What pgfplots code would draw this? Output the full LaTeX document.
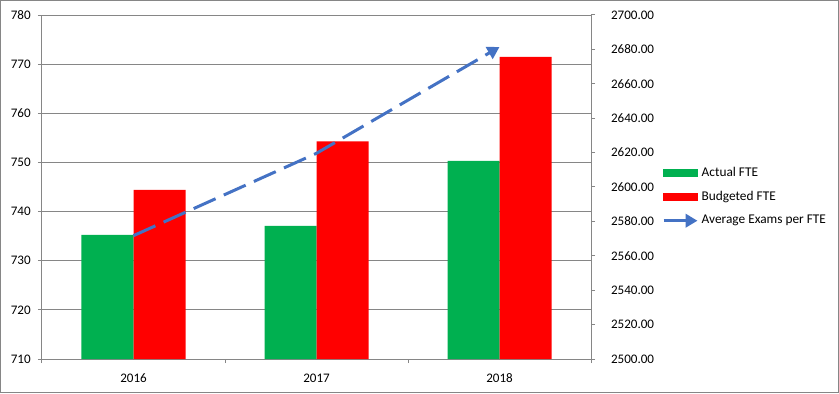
\documentclass[border=0pt]{standalone}
\usepackage{fontspec}
\setmainfont{Carlito}
\usepackage{pgfplots}
\pgfplotsset{compat=1.18}
\usetikzlibrary{arrows.meta}
\definecolor{actgreen}{HTML}{00B050}
\definecolor{budred}{HTML}{FF0000}
\definecolor{avgblue}{HTML}{4472C4}
\definecolor{axgray}{HTML}{868686}
\begin{document}
\begin{tikzpicture}[font=\fontsize{10}{12}\selectfont]
\useasboundingbox (0,0) rectangle (629.25pt,294.75pt);
\draw[axgray, line width=0.75pt] (0.375pt,0.375pt) rectangle (628.875pt,294.375pt);
\pgfplotsset{
  common/.style={scale only axis, width=411.75pt, height=258pt,
    at={(31.5pt,25.5pt)}, anchor=south west,
    xmin=-0.5, xmax=2.5, clip=true,
    tick align=outside, major tick length=3pt,
    tick style={axgray, line width=0.75pt},
    axis line style={-, axgray, line width=0.75pt},
    /pgf/number format/assume math mode=true,
    ticklabel style={font=\fontsize{9.8}{12}\selectfont, text=black}}
}
\begin{axis}[common,
  axis x line*=bottom, axis y line*=left,
  ymin=710, ymax=780, ytick distance=10,
  ymajorgrids, grid style={axgray, line width=0.75pt},
  xtick={-0.5,0.5,1.5,2.5}, xticklabels={2016,2017,2018}, x tick label as interval,
  xticklabel style={yshift=-4.5pt},
  ybar, bar width=39pt,
  yticklabel style={xshift=-2pt},
]
\addplot[fill=actgreen, draw=none, bar shift=-19.5pt] coordinates {(0,735.25) (1,737.1) (2,750.3)};
\addplot[fill=budred, draw=none, bar shift=19.5pt] coordinates {(0,744.4) (1,754.3) (2,771.5)};
\end{axis}
\begin{axis}[common,
  axis x line=none, axis y line*=right,
  ymin=2500, ymax=2700, ytick distance=20, scaled y ticks=false,
  yticklabel style={xshift=8.5pt, /pgf/number format/fixed, /pgf/number format/fixed zerofill, /pgf/number format/precision=2, /pgf/number format/1000 sep={}},
  legend style={at={(1.12933,0.5764)}, anchor=north west, draw=none, fill=none,
    inner sep=0pt, outer sep=0pt, row sep=0pt, cells={anchor=west},
    nodes={minimum height=18pt, inner ysep=0pt, text=black},
    font=\fontsize{10}{12}\selectfont},
]
\addlegendimage{legend image code/.code={\fill[actgreen] (0pt,-2.35pt) rectangle (25.5pt,2.35pt);}}
\addlegendentry{Actual FTE}
\addlegendimage{legend image code/.code={\fill[budred] (0pt,-2.35pt) rectangle (25.5pt,2.35pt);}}
\addlegendentry{Budgeted FTE}
\addplot[avgblue, line width=2.25pt, dash pattern=on 18pt off 6.75pt,
  -{Triangle[length=9pt,width=10pt]},
  legend image code/.code={\draw[avgblue, line width=2.25pt, -{Triangle[length=9pt,width=10pt]}] (0pt,0pt) -- (25.5pt,0pt);}]
  coordinates {(0,2571.7) (1,2619.6) (2,2681.4)};
\addlegendentry{Average Exams per FTE}
\end{axis}
\end{tikzpicture}
\end{document}
